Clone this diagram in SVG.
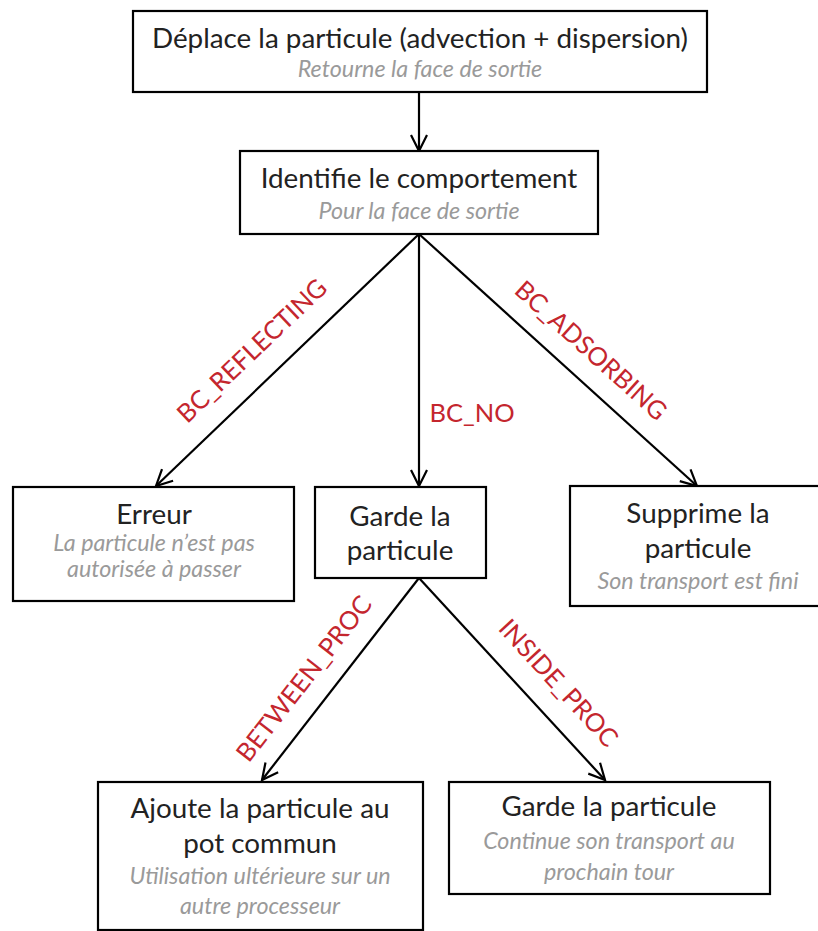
<svg xmlns="http://www.w3.org/2000/svg" width="818" height="931" viewBox="0 0 818 931">
  <style>
    .box { fill: #ffffff; stroke: #000000; stroke-width: 2.2; }
    .title { font-family: Lato, "Open Sans", sans-serif; font-size: 27.8px; fill: #222222; text-anchor: middle; }
    .sub { font-family: Lato, "Open Sans", sans-serif; font-size: 23.3px; font-style: italic; fill: #9a9a9a; text-anchor: middle; }
    .edge { stroke: #000000; stroke-width: 2.2; fill: none; marker-end: url(#arrow); }
    .lbl { font-family: Lato, "Open Sans", sans-serif; font-size: 25.5px; fill: #c4262e; text-anchor: middle; }
  </style>
  <defs>
    <marker id="arrow" viewBox="0 0 20 20" refX="18" refY="10" markerWidth="20" markerHeight="20" markerUnits="userSpaceOnUse" orient="auto">
      <path d="M2,2 L18,10 L2,18" fill="none" stroke="#000000" stroke-width="2.2"/>
    </marker>
  </defs>

  <rect width="818" height="931" fill="#ffffff"/>

  <g id="connectors">
    <line class="edge" x1="419" y1="92" x2="419" y2="151"/>
    <line class="edge" x1="419" y1="234" x2="156" y2="486"/>
    <line class="edge" x1="419" y1="234" x2="419" y2="486"/>
    <line class="edge" x1="419" y1="234" x2="697" y2="486"/>
    <line class="edge" x1="419" y1="578" x2="262" y2="780"/>
    <line class="edge" x1="419" y1="578" x2="605" y2="780"/>
  </g>

  <g id="labels">
    <text class="lbl" transform="translate(258,357) rotate(-43.5)">BC_REFLECTING</text>
    <text class="lbl" x="472" y="422">BC_NO</text>
    <text class="lbl" transform="translate(585,357) rotate(42)">BC_ADSORBING</text>
    <text class="lbl" transform="translate(311,684) rotate(-52)">BETWEEN_PROC</text>
    <text class="lbl" transform="translate(552,689) rotate(47.5)">INSIDE_PROC</text>
  </g>

  <g id="move">
    <rect class="box" x="133" y="11" width="574" height="81"/>
    <text class="title" x="420" y="48">Déplace la particule (advection + dispersion)</text>
    <text class="sub" x="420" y="77">Retourne la face de sortie</text>
  </g>

  <g id="identify">
    <rect class="box" x="240" y="151" width="358" height="83"/>
    <text class="title" x="419" y="188">Identifie le comportement</text>
    <text class="sub" x="419" y="219">Pour la face de sortie</text>
  </g>

  <g id="error">
    <rect class="box" x="13" y="487" width="281" height="114"/>
    <text class="title" x="154" y="524">Erreur</text>
    <text class="sub" x="154" y="551">La particule n’est pas</text>
    <text class="sub" x="154" y="577">autorisée à passer</text>
  </g>

  <g id="keep">
    <rect class="box" x="315" y="487" width="171" height="91"/>
    <text class="title" x="400" y="526">Garde la</text>
    <text class="title" x="400" y="560">particule</text>
  </g>

  <g id="remove">
    <rect class="box" x="570" y="486" width="258" height="120"/>
    <text class="title" x="698" y="523">Supprime la</text>
    <text class="title" x="698" y="558">particule</text>
    <text class="sub" x="698" y="589">Son transport est fini</text>
  </g>

  <g id="pool">
    <rect class="box" x="98" y="782" width="325" height="148"/>
    <text class="title" x="260" y="818">Ajoute la particule au</text>
    <text class="title" x="260" y="853">pot commun</text>
    <text class="sub" x="260" y="884">Utilisation ultérieure sur un</text>
    <text class="sub" x="260" y="914">autre processeur</text>
  </g>

  <g id="keep-next">
    <rect class="box" x="449" y="782" width="321" height="112"/>
    <text class="title" x="609" y="816">Garde la particule</text>
    <text class="sub" x="609" y="849">Continue son transport au</text>
    <text class="sub" x="609" y="880">prochain tour</text>
  </g>
</svg>
